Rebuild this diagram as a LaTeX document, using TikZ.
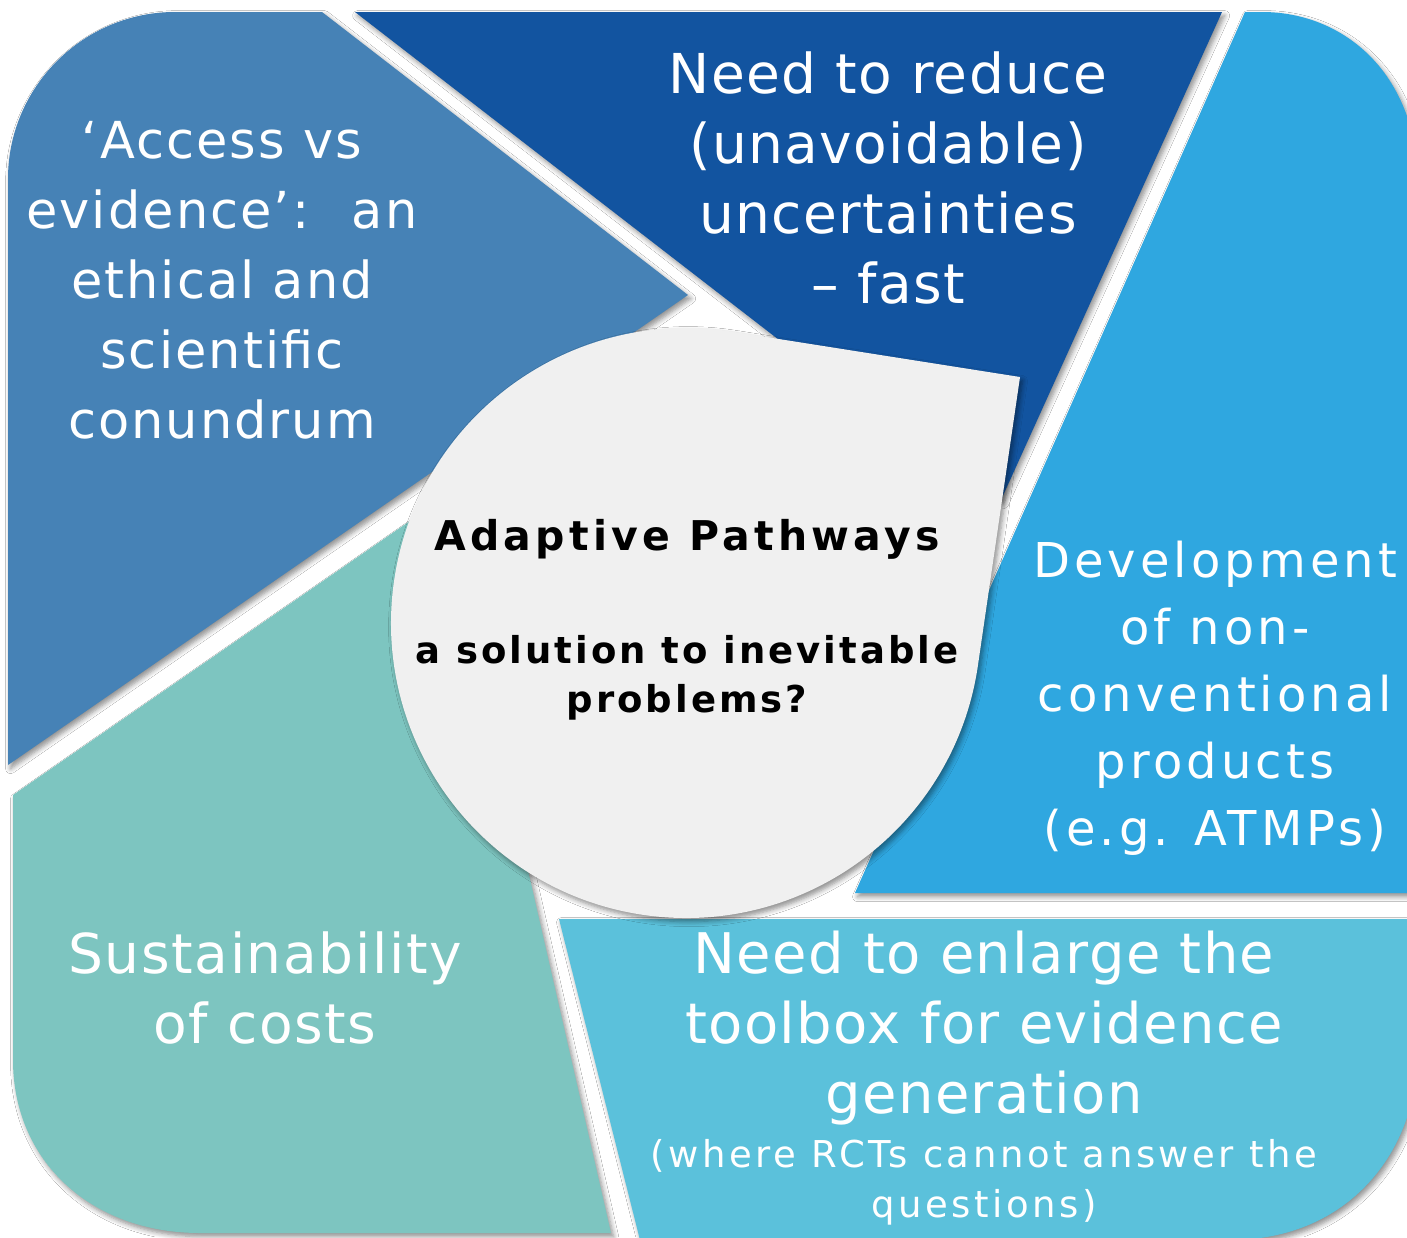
\documentclass[tikz,border=0pt]{standalone}
\usepackage{fontspec}
\setmainfont{DejaVu Sans}
\usetikzlibrary{shadows.blur}

\definecolor{accessblue}{HTML}{4682B6}
\definecolor{uncertblue}{HTML}{1254A0}
\definecolor{atmpblue}{HTML}{2FA7E0}
\definecolor{costteal}{HTML}{7DC5C0}
\definecolor{toolaqua}{HTML}{5BC1DB}
\definecolor{corefill}{HTML}{F0F0F0}

\begin{document}
\begin{tikzpicture}[x=0.5pt,y=-0.5pt,
  castshadow/.style={blur shadow={shadow xshift=1.3pt, shadow yshift=-1.8pt,
      shadow blur radius=2.5pt, shadow blur steps=6, shadow opacity=45}},
  % multi-line nodes are placed by the baseline of their last line
  txt/.style={text=white, align=center, inner sep=0pt, anchor=base},
  coretxt/.style={text=black, align=center, inner sep=0pt, anchor=base}]
\useasboundingbox (0,0) rectangle (1407,1237);
\fill[white] (0,0) rectangle (1407,1237);
\clip (0,0) rectangle (1407,1237);

% five pieces of the rounded frame
\fill[accessblue, castshadow] (8,765) -- (8,179) .. controls (8,87) and (83,12) .. (175,12)
  -- (322,12) -- (688,295) -- cycle;
\fill[uncertblue, castshadow] (355,12) -- (1222,12) -- (1001,500) -- (805,360) -- cycle;
\fill[atmpblue, castshadow] (1245,12) -- (1262,12) .. controls (1345,12) and (1418,75) .. (1418,185)
  -- (1418,893) -- (855,893) -- cycle;
\fill[costteal, castshadow] (13,795) -- (420,514) -- (489,700) -- (611,1233) -- (200,1233)
  .. controls (90,1233) and (13,1160) .. (13,1060) -- cycle;
\fill[toolaqua, castshadow] (559,919) -- (1418,919) -- (1418,1050)
  .. controls (1418,1150) and (1350,1240) .. (1230,1240) -- (640,1240) -- cycle;

% central drop
\fill[corefill, castshadow] (686,623) ++(-81.4:295) arc[start angle=-81.4, end angle=-351.4, radius=295]
  -- (1020,377) -- cycle;

% texts
\node[txt, font={\fontsize{25.5}{35}\selectfont\addfontfeatures{LetterSpace=4}}] (access) at (222,438)
  {‘Access vs\\evidence’:~ an\\ethical and\\scientific\\conundrum};
\node[txt, font={\fontsize{27.5}{35}\selectfont\addfontfeatures{LetterSpace=2.5}}] (reduce) at (888,303)
  {Need to reduce\\(unavoidable)\\uncertainties\\– fast};
\node[txt, font={\fontsize{24}{33.5}\selectfont\addfontfeatures{LetterSpace=8.5}}] (develop) at (1215,845)
  {Development\\of non-\\conventional\\products\\(e.g. ATMPs)};
\node[txt, font={\fontsize{27.5}{35}\selectfont\addfontfeatures{LetterSpace=3}}] (costs) at (265,1043)
  {Sustainability\\of costs};
\node[txt, font={\fontsize{28}{35}\selectfont\addfontfeatures{LetterSpace=2.5}}] (toolbox) at (984,1113)
  {Need to enlarge the\\toolbox for evidence\\generation};
\node[txt, font={\fontsize{18.5}{25}\selectfont\addfontfeatures{LetterSpace=9.5}}] (rcts) at (984,1217)
  {(where RCTs cannot answer the\\questions)};

\node[coretxt, font={\bfseries\fontsize{20.5}{25}\selectfont\addfontfeatures{LetterSpace=10.5}}] (title) at (687,550)
  {Adaptive Pathways};
\node[coretxt, font={\bfseries\fontsize{18.5}{24.5}\selectfont\addfontfeatures{LetterSpace=8}}] (question) at (687,712)
  {a solution to inevitable\\problems?};
\end{tikzpicture}
\end{document}
